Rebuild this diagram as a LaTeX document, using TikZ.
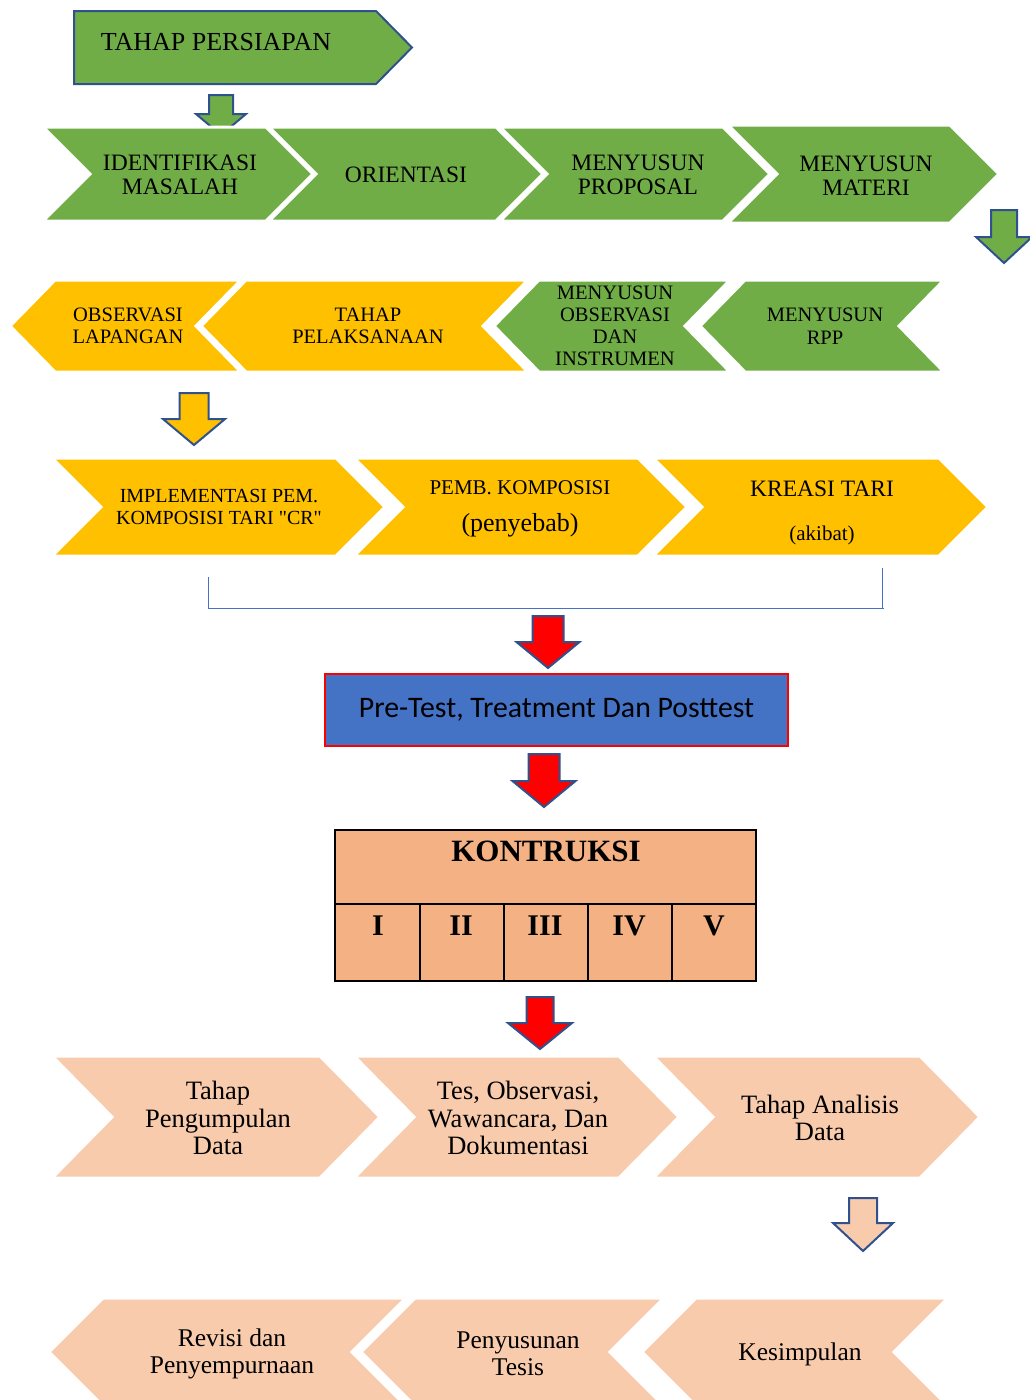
\documentclass[tikz,border=0pt]{standalone}
\usepackage{fontspec}
\setmainfont{Liberation Serif}
\newfontfamily\calibfont{Carlito}
\definecolor{gr}{HTML}{70AD47}
\definecolor{yl}{HTML}{FFC000}
\definecolor{pc}{HTML}{F8CBAD}
\definecolor{tb}{HTML}{F4B183}
\definecolor{bl}{HTML}{4472C4}
\definecolor{ol}{HTML}{2F528F}
% right-pointing chevron: fill, x0, xr, ytop, ybot, depth
\newcommand\rchev[6]{%
  \path[chevbox,fill=#1] (#2,#4) -- (#3,#4) -- ({#3+#6},{(#4+#5)/2}) -- (#3,#5) -- (#2,#5) -- ({#2+#6},{(#4+#5)/2}) -- cycle;}
% left-pointing chevron: fill, xtip, xr, ytop, ybot, depth
\newcommand\lchev[6]{%
  \path[chevbox,fill=#1] (#2,{(#4+#5)/2}) -- ({#2+#6},#4) -- (#3,#4) -- ({#3-#6},{(#4+#5)/2}) -- (#3,#5) -- ({#2+#6},#5) -- cycle;}
% block arrow down: fill, cx, ytop, yneck, ytip, shaft half, head half
\newcommand\blockarrow[7]{%
  \path[blockarr,fill=#1] ({#2-#6},#3) -- ({#2+#6},#3) -- ({#2+#6},#4) -- ({#2+#7},#4) -- (#2,#5) -- ({#2-#7},#4) -- ({#2-#6},#4) -- cycle;}
\tikzset{
  chevbox/.style={draw=white,line width=3pt,line join=miter},
  blockarr/.style={draw=ol,line width=2pt,line join=miter},
  txa/.style={align=center,inner sep=0pt,font=\fontsize{23.5}{24}\selectfont},
  txb/.style={align=center,inner sep=0pt,font=\fontsize{20.5}{22.5}\selectfont},
  txc/.style={align=center,inner sep=0pt,font=\fontsize{20}{22}\selectfont},
  txd/.style={align=center,inner sep=0pt,font=\fontsize{26.5}{27.5}\selectfont},
  numtx/.style={inner sep=0pt,font=\bfseries\fontsize{30}{30}\selectfont},
}
\begin{document}
\begin{tikzpicture}[x=1pt,y=-1pt]
\useasboundingbox (0,0) rectangle (1030,1400);
\clip (0,0) rectangle (1030,1400);
\fill[white] (0,0) rectangle (1030,1400);

% title
\path[fill=gr,draw=ol,line width=2pt,line join=miter] (74,11) -- (376,11) -- (412,47.5) -- (376,84) -- (74,84) -- cycle;
\node[inner sep=0pt,font=\fontsize{26}{26}\selectfont] (title) at (216,42) {TAHAP PERSIAPAN};
\blockarrow{gr}{221}{95}{114}{135}{12}{25}

% row 1
\rchev{gr}{43}{266}{127}{221}{47}
\rchev{gr}{269}{496}{127}{221}{47}
\rchev{gr}{500}{723}{127}{221}{47}
\rchev{gr}{728}{950}{125}{223}{49}
\node[txa] (r1a) at (180,175) {IDENTIFIKASI\\MASALAH};
\node[txa] (r1b) at (406,175) {ORIENTASI};
\node[txa] (r1c) at (638,175) {MENYUSUN\\PROPOSAL};
\node[txa] (r1d) at (866,176) {MENYUSUN\\MATERI};
\blockarrow{gr}{1004}{210}{237}{263}{13}{28}

% row 2
\lchev{yl}{10}{241}{280}{372}{45}
\lchev{yl}{201}{528}{280}{372}{45}
\lchev{gr}{494}{730}{280}{372}{45}
\lchev{gr}{700}{944}{280}{372}{45}
\node[txb] (r2a) at (128,326) {OBSERVASI\\LAPANGAN};
\node[txb] (r2b) at (368,326) {TAHAP\\PELAKSANAAN};
\node[txb,font=\fontsize{20.5}{22}\selectfont] (r2c) at (615,326) {MENYUSUN\\OBSERVASI\\DAN\\INSTRUMEN};
\node[txb] (r2d) at (825,326) {MENYUSUN\\RPP};
\blockarrow{yl}{194}{393}{419}{445}{14.5}{31}

% row 3
\rchev{yl}{52}{336}{458}{556}{49}
\rchev{yl}{354}{638}{458}{556}{49}
\rchev{yl}{653}{939}{458}{556}{49}
\node[txc] (r3a) at (219,507) {IMPLEMENTASI PEM.\\KOMPOSISI TARI \textquotedbl CR\textquotedbl};
\node[inner sep=0pt,font=\fontsize{21}{21}\selectfont] (r3b) at (520,488) {PEMB. KOMPOSISI};
\node[inner sep=0pt,font=\fontsize{26}{26}\selectfont] (r3bb) at (520,525) {(penyebab)};
\node[inner sep=0pt,font=\fontsize{23.5}{23.5}\selectfont] (r3c) at (822,489) {KREASI TARI};
\node[inner sep=0pt,font=\fontsize{21}{21}\selectfont] (r3cc) at (822,535) {(akibat)};

% bracket
\coordinate (bl1) at (208,577);
\coordinate (bl2) at (208,608);
\coordinate (br2) at (884,608);
\coordinate (br1) at (882,568);
\coordinate (br3) at (882,608);
\draw[bl,line width=1pt] (bl1) -- (bl2) -- (br2);
\draw[bl,line width=1pt] (br1) -- (br3);

\blockarrow{red}{548}{616}{642}{668}{15.5}{31.5}
\node[draw=red,fill=bl,line width=2pt,minimum width=463pt,minimum height=72pt,inner sep=0pt,
      font=\calibfont\fontsize{29.8}{29.8}\selectfont] (ptt) at (556.5,710) {Pre-Test, Treatment Dan Posttest};
\blockarrow{red}{544}{754}{781}{807}{15.5}{31.5}

% table
\draw[fill=tb,line width=2pt] (335,830) rectangle (756,981);
\draw[line width=2pt] (335,904) -- (756,904);
\foreach \xx in {420,504,588,672} \draw[line width=2pt] (\xx,904) -- (\xx,981);
\node[inner sep=0pt,font=\bfseries\fontsize{31}{31}\selectfont] (kon) at (546,851) {KONTRUKSI};
\node[numtx] (n1) at (378,926) {I};
\node[numtx] (n2) at (461,926) {II};
\node[numtx] (n3) at (545,926) {III};
\node[numtx] (n4) at (629,926) {IV};
\node[numtx] (n5) at (714,926) {V};
\blockarrow{red}{540}{997}{1023}{1049}{13.5}{32}

% row 4
\rchev{pc}{52}{320}{1056}{1178}{60}
\rchev{pc}{354}{619}{1056}{1178}{60}
\rchev{pc}{653}{920}{1056}{1178}{60}
\node[txd] (r4a) at (218,1118) {Tahap\\Pengumpulan\\Data};
\node[txd] (r4b) at (518,1118) {Tes, Observasi,\\Wawancara, Dan\\Dokumentasi};
\node[txd] (r4c) at (820,1118) {Tahap Analisis\\Data};
\blockarrow{pc}{863}{1198}{1223}{1251}{14}{30}

% row 5
\lchev{pc}{49}{406}{1298}{1406}{54}
\lchev{pc}{361}{664}{1298}{1406}{54}
\lchev{pc}{642}{948}{1298}{1406}{54}
\node[txd,font=\fontsize{25.5}{27}\selectfont] (r5a) at (232,1354) {Revisi dan\\Penyempurnaan};
\node[txd,font=\fontsize{25.5}{27}\selectfont] (r5b) at (518,1354) {Penyusunan\\Tesis};
\node[txd,font=\fontsize{25.5}{27}\selectfont] (r5c) at (800,1354) {Kesimpulan};
\end{tikzpicture}
\end{document}
